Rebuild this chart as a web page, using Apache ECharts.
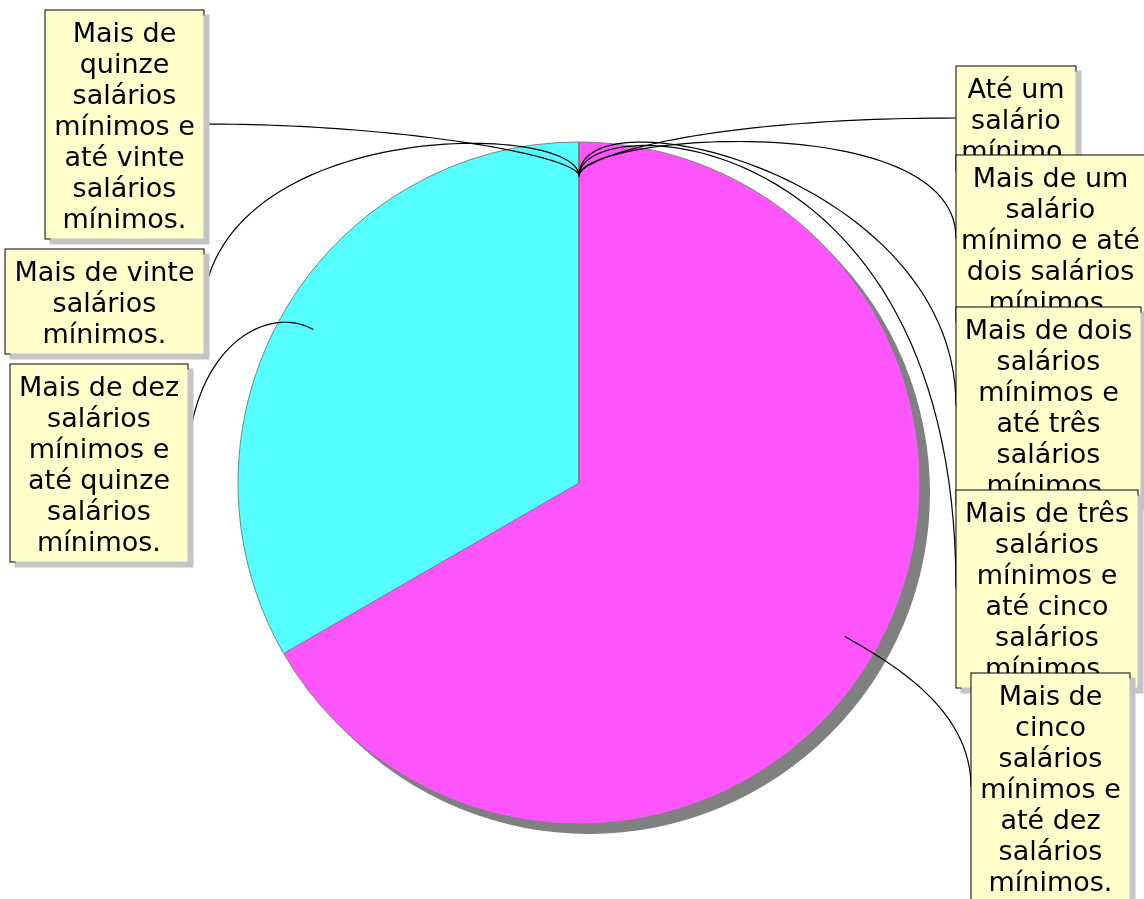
<!DOCTYPE html>
<html><head><meta charset="utf-8">
<script src="https://cdn.jsdelivr.net/npm/echarts@6/dist/echarts.min.js"></script>
<style>html,body{margin:0;padding:0;background:#fff}#c{width:1144px;height:899px}</style>
</head><body><div id="c"></div>
<script>
const categories = [
  'Até um salário mínimo.',
  'Mais de um salário mínimo e até dois salários mínimos.',
  'Mais de dois salários mínimos e até três salários mínimos.',
  'Mais de três salários mínimos e até cinco salários mínimos.',
  'Mais de cinco salários mínimos e até dez salários mínimos.',
  'Mais de dez salários mínimos e até quinze salários mínimos.',
  'Mais de quinze salários mínimos e até vinte salários mínimos.',
  'Mais de vinte salários mínimos.'
];
const values = [0, 0, 0, 0, 2, 1, 0, 0];
const sliceColors = ['#5555ff', '#ff5555', '#55ff55', '#ffff55', '#ff55ff', '#55ffff', '#aa55ff', '#55aaff'];

const PIE_CENTER = [579, 483];
const PIE_RADIUS = 341;
const SHADOW_OFFSET = 10;
const FONT_SIZE = 27;
const LINE_HEIGHT = 31;
const PAD = [9, 4, 2, 4];
// label box placement: [left, top, width, startHandle, endDirection, endHandle, endSideOffset]
const labelBoxes = [
  [956, 66, 119, 20, 'h', 250, 0],
  [956, 155, 188, 42, 'v', 131, 0],
  [956, 307, 184, 89, 'v', 230, 0],
  [956, 490, 181, 67, 'v', 474, 0],
  [971, 673, 158, 50, 'v', 80, 0],
  [10, 364, 177, 50, 'v', 120, 6],
  [45, 10, 158, 20, 'h', 200, 0],
  [5, 249, 198, 54, 'v', 184, 25]
];

const measureCtx = document.createElement('canvas').getContext('2d');
measureCtx.font = FONT_SIZE + 'px "DejaVu Sans"';
function wrapWords(text, maxW) {
  const words = text.split(' ');
  const lines = [];
  let cur = '';
  for (const w of words) {
    const t = cur ? cur + ' ' + w : w;
    if (cur && measureCtx.measureText(t).width > maxW + 1) { lines.push(cur); cur = w; }
    else cur = t;
  }
  if (cur) lines.push(cur);
  return lines;
}
const wrapped = categories.map((c, i) => wrapWords(c, labelBoxes[i][2] - PAD[1] - PAD[3]));

function cubic(p0, p1, p2, p3, n) {
  const pts = [];
  for (let i = 0; i <= n; i++) {
    const t = i / n, m = 1 - t;
    const a = m * m * m, b = 3 * m * m * t, c = 3 * m * t * t, d = t * t * t;
    pts.push([a * p0[0] + b * p1[0] + c * p2[0] + d * p3[0],
              a * p0[1] + b * p1[1] + c * p2[1] + d * p3[1]]);
  }
  return pts;
}

const total = values.reduce((s, v) => s + v, 0);
const midAngles = [];
(function () {
  let cum = 0;
  values.forEach(v => {
    midAngles.push((90 - (cum + v / 2) / total * 360) * Math.PI / 180);
    cum += v;
  });
})();

const pieData = categories.map((name, i) => ({
  name: name,
  value: values[i],
  itemStyle: { color: sliceColors[i] }
}));
const overlayData = categories.map((name, i) => ({
  name: name,
  value: values[i],
  label: { width: labelBoxes[i][2] - PAD[1] - PAD[3] }
}));

const chart = echarts.init(document.getElementById('c'), null, { renderer: 'canvas' });
chart.setOption({
  animation: false,
  backgroundColor: '#ffffff',
  series: [
    {
      type: 'pie',
      silent: true,
      z: 1,
      center: [PIE_CENTER[0] + SHADOW_OFFSET, PIE_CENTER[1] + SHADOW_OFFSET],
      radius: PIE_RADIUS,
      label: { show: false },
      labelLine: { show: false },
      itemStyle: { color: '#808080' },
      data: [{ value: 1, name: '' }],
      emphasis: { disabled: true }
    },
    {
      type: 'pie',
      silent: true,
      z: 2,
      center: PIE_CENTER,
      radius: PIE_RADIUS,
      startAngle: 90,
      clockwise: true,
      avoidLabelOverlap: false,
      emphasis: { disabled: true },
      itemStyle: { borderColor: '#808080', borderWidth: 1 },
      label: { show: false },
      labelLine: { show: false },
      data: pieData
    },
    {
      type: 'pie',
      silent: true,
      z: 5,
      center: PIE_CENTER,
      radius: PIE_RADIUS,
      startAngle: 90,
      clockwise: true,
      avoidLabelOverlap: false,
      emphasis: { disabled: true },
      itemStyle: { color: 'rgba(0,0,0,0)', borderWidth: 0 },
      label: {
        show: true,
        position: 'outside',
        formatter: p => wrapped[p.dataIndex].join('\n'),
        color: '#000',
        fontFamily: 'DejaVu Sans',
        fontSize: FONT_SIZE,
        lineHeight: LINE_HEIGHT,
        backgroundColor: '#ffffcc',
        borderColor: '#000',
        borderWidth: 1,
        padding: PAD,
        overflow: 'none',
        shadowColor: '#c4c4c4',
        shadowOffsetX: 5,
        shadowOffsetY: 5,
        shadowBlur: 0
      },
      labelLine: { show: true, smooth: false, lineStyle: { color: '#000', width: 1.2 } },
      labelLayout: function (p) {
        const i = p.dataIndex;
        const b = labelBoxes[i];
        const left = b[0], top = b[1], w = b[2], a = b[3], dir = b[4], hb = b[5], off = b[6];
        const h = wrapped[i].length * LINE_HEIGHT + PAD[0] + PAD[2];
        const isRight = left > PIE_CENTER[0];
        const ux = Math.cos(midAngles[i]), uy = -Math.sin(midAngles[i]);
        const p0 = [PIE_CENTER[0] + ux * PIE_RADIUS * 0.9, PIE_CENTER[1] + uy * PIE_RADIUS * 0.9];
        const p3 = [isRight ? left : left + w, top + h / 2];
        const p1 = [p0[0] + ux * a, p0[1] + uy * a];
        const p2 = dir === 'h'
          ? [p3[0] + (isRight ? -hb : hb), p3[1]]
          : [p3[0] + (isRight ? -off : off), p3[1] - hb];
        return {
          x: left + 0.5 + w / 2,
          y: top + 0.5,
          align: 'center',
          verticalAlign: 'top',
          labelLinePoints: cubic(p0, p1, p2, p3, 60)
        };
      },
      data: overlayData
    }
  ]
});
</script>
</body></html>
